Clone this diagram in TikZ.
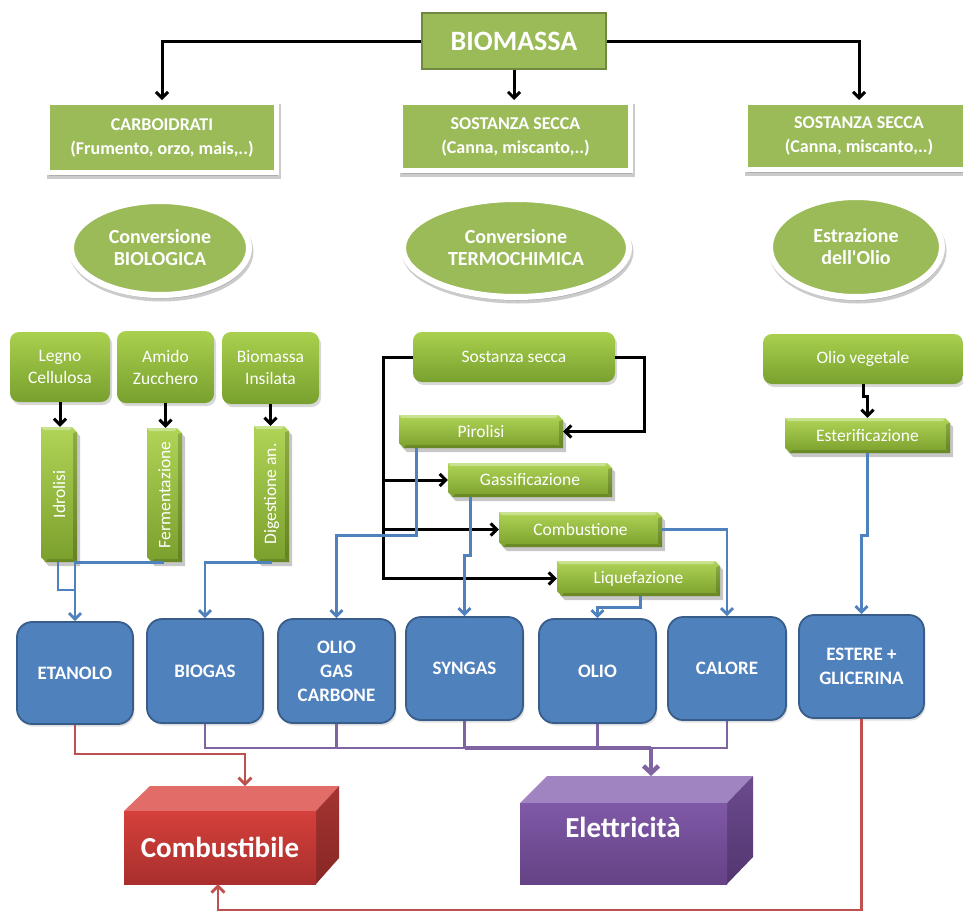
\documentclass[tikz,border=0pt]{standalone}
\usepackage{fontspec}
\setmainfont{Carlito}
\usetikzlibrary{arrows.meta,shapes.geometric,shadows,calc}

\definecolor{gMain}{HTML}{9BBB59}
\definecolor{gDark}{HTML}{71893F}
\definecolor{gTop}{HTML}{A9D04D}
\definecolor{gBot}{HTML}{78A02E}
\definecolor{barTop}{HTML}{AFD456}
\definecolor{barBot}{HTML}{7B9F2C}
\definecolor{bFill}{HTML}{4F81BD}
\definecolor{bEdge}{HTML}{385D8A}
\definecolor{pLine}{HTML}{8064A2}
\definecolor{rLine}{HTML}{C0504D}
\definecolor{redFront}{HTML}{D5403B}
\definecolor{redFrontB}{HTML}{A82F2D}
\definecolor{redTop}{HTML}{E26C68}
\definecolor{redSide}{HTML}{A53431}
\definecolor{redSideB}{HTML}{862725}
\definecolor{vioFront}{HTML}{7F59A7}
\definecolor{vioFrontB}{HTML}{654285}
\definecolor{vioTop}{HTML}{A084C2}
\definecolor{vioSide}{HTML}{6C4A8E}
\definecolor{vioSideB}{HTML}{533670}

\tikzset{
  framedshadow/.style={preaction={draw=black!45, fill=black!45, line width=#1,
    opacity=.45, transform canvas={xshift=1.5pt,yshift=-3.5pt}}},
  rootbox/.style={rectangle, fill=gMain, draw=gDark, line width=2.5pt,
    minimum width=184, minimum height=56, text=white, inner sep=0,
    font=\fontsize{28}{30}\selectfont\bfseries},
  catbox/.style={rectangle, fill=gMain, draw=white, line width=5pt, inner sep=0,
    framedshadow=5pt,
    text=white, align=center, font=\fontsize{18}{24}\selectfont\bfseries},
  convell/.style={ellipse, fill=gMain, draw=white, line width=6pt, inner sep=0,
    framedshadow=6pt,
    text=white, align=center, font=\fontsize{20}{22}\selectfont\bfseries},
  srcbox/.style={rectangle, rounded corners=9pt, top color=gTop, bottom color=gBot,
    inner sep=0, drop shadow={shadow xshift=2pt, shadow yshift=-3pt, opacity=.3},
    text=white, align=center, font=\fontsize{17.5}{22}\selectfont},
  bartext/.style={rectangle, inner sep=0, text=white, align=center,
    font=\fontsize{17.5}{20}\selectfont},
  prodbox/.style={rectangle, rounded corners=15pt, fill=bFill, draw=bEdge,
    line width=1.8pt, inner sep=0,
    drop shadow={shadow xshift=1.5pt, shadow yshift=-2.5pt, opacity=.25},
    text=white, align=center, font=\fontsize{19}{24}\selectfont\bfseries},
  bigtext/.style={rectangle, inner sep=0, text=white,
    font=\fontsize{29}{32}\selectfont\bfseries},
  bk/.style={black, line width=3pt, -{Straight Barb[length=6pt,width=12pt]}},
  bl/.style={bFill, line width=2.8pt, -{Straight Barb[length=6pt,width=12pt]}},
  blline/.style={bFill, line width=2.8pt},
  pl/.style={pLine, line width=2.8pt},
  rl/.style={rLine, line width=2.8pt, -{Straight Barb[length=6.5pt,width=13pt]}},
}

% bevelled process bar: name, x1, y1, x2, y2, text
\newcommand{\bevelbar}[6]{%
  \fill[black,opacity=.22] (#2+3,#3+4) -- (#4+3-5,#3+4) -- (#4+3,#3+9) -- (#4+3,#5+4)
     -- (#2+8,#5+4) -- (#2+3,#5-1) -- cycle;
  \shade[top color=barTop,bottom color=barBot] (#2,#3) -- (#4-5,#3) -- (#4,#3+5)
     -- (#4,#5) -- (#2+5,#5) -- (#2,#5-5) -- cycle;
  \fill[white,opacity=.35] (#2,#3) -- (#4-5,#3) -- (#4-7,#3+3) -- (#2+3,#3+3) -- cycle;
  \fill[black,opacity=.18] (#4,#3+5) -- (#4,#5) -- (#4-4,#5-4) -- (#4-4,#3+6) -- cycle;
  \fill[black,opacity=.15] (#4,#5) -- (#2+5,#5) -- (#2+7,#5-3) -- (#4-4,#5-3) -- cycle;
  \node[bartext, minimum width={#4-#2}, minimum height={#5-#3}] (#1)
     at ({(#2+#4)/2},{(#3+#5)/2}) {#6};
}

\begin{document}
\begin{tikzpicture}[x=1pt,y=-1pt]
\fill[white] (0,0) rectangle (963,913);
\useasboundingbox (0,0) rectangle (963,913);

% root and categories
\node[rootbox] (bio) at (514,41) {BIOMASSA};
\node[catbox, minimum width=229, minimum height=70] (carb) at (162,137.5)
  {CARBOIDRATI\\(Frumento, orzo, mais,..)};
\node[catbox, minimum width=230, minimum height=68] (ssa) at (515.5,136.5)
  {SOSTANZA SECCA\\(Canna, miscanto,..)};
\node[catbox, minimum width=227, minimum height=67] (ssb) at (859,136)
  {SOSTANZA SECCA\\(Canna, miscanto,..)};

\draw[bk] (bio.west) -| (carb.north);
\draw[bk] (bio.east) -| (ssb.north);
\draw[bk] (bio.south) -- (bio.south |- ssa.north);

% conversion routes
\node[convell, minimum width=178, minimum height=94] (ebio) at (160,248)
  {Conversione\\BIOLOGICA};
\node[convell, minimum width=226, minimum height=98] (eterm) at (516,248)
  {Conversione\\TERMOCHIMICA};
\node[convell, minimum width=172, minimum height=100] (eolio) at (856,247)
  {Estrazione\\dell\textquotesingle Olio};

% biological branch
\node[srcbox, minimum width=100, minimum height=70] (legno) at (60,367) {Legno\\Cellulosa};
\node[srcbox, minimum width=97, minimum height=72] (amido) at (165.5,367) {Amido\\Zucchero};
\node[srcbox, minimum width=97, minimum height=72] (insil) at (270.5,368) {Biomassa\\Insilata};

\bevelbar{idro}{41}{427}{77}{562}{\rotatebox{90}{Idrolisi}}
\bevelbar{ferm}{147}{428}{182}{562}{\rotatebox{90}{Fermentazione}}
\bevelbar{dige}{254}{426}{289}{562}{\rotatebox{90}{Digestione an.}}

\draw[bk] (legno.south) -- (legno.south |- idro.north);
\draw[bk] (amido.south) -- (amido.south |- ferm.north);
\draw[bk] (insil.south) -- (insil.south |- dige.north);

% thermochemical branch
\node[srcbox, minimum width=202, minimum height=50] (secca) at (514,357) {Sostanza secca};
\bevelbar{piro}{399}{415}{563}{448}{Pirolisi}
\bevelbar{gass}{448}{463}{612}{497}{Gassificazione}
\bevelbar{combu}{499}{512}{662}{547}{Combustione}
\bevelbar{liq}{557}{561}{720}{596}{Liquefazione}

\coordinate (spine) at (383,357);
\draw[bk] (secca.west) -- (spine) |- (liq.west);
\draw[bk] (spine |- gass.west) -- (gass.west);
\draw[bk] (spine |- combu.west) -- (combu.west);
\draw[bk] (secca.east) -- ++(29,0) |- (piro.east);

% oil extraction branch
\node[srcbox, minimum width=200, minimum height=50] (oliov) at (863,359) {Olio vegetale};
\bevelbar{ester}{785}{418}{950}{453}{Esterificazione}
\draw[bk] (oliov.south) -- ++(0,12) -| (ester.north);

% products
\node[prodbox, minimum width=116, minimum height=102] (etan) at (75,673) {ETANOLO};
\node[prodbox, minimum width=116, minimum height=104] (biogas) at (205,671) {BIOGAS};
\node[prodbox, minimum width=117, minimum height=104] (ogc) at (336.5,671) {OLIO\\GAS\\CARBONE};
\node[prodbox, minimum width=117, minimum height=103] (syngas) at (464.5,668.5) {SYNGAS};
\node[prodbox, minimum width=117, minimum height=104] (olio) at (597.5,671) {OLIO};
\node[prodbox, minimum width=118, minimum height=103] (calore) at (727,668.5) {CALORE};
\node[prodbox, minimum width=125, minimum height=103] (estere) at (861.5,666.5) {ESTERE +\\GLICERINA};

% process outputs
\coordinate (ejoin) at (0,590);
\draw[blline] ([xshift=-1pt]idro.south) |- (etan.north |- ejoin);
\draw[bl] ([xshift=-1pt]ferm.south) -| (etan.north);
\draw[bl] (dige.south) -| (biogas.north);
\draw[bl] ([xshift=18pt]piro.south west) -- ++(0,87) -| (ogc.north);
\draw[bl] ([xshift=23pt]gass.south west) -- ++(0,58) -| (syngas.north);
\draw[bl] (combu.east) -| (calore.north);
\draw[bl] ([xshift=84pt]liq.south west) -- ++(0,11) -| (olio.north);
\draw[bl] (ester.south) -- ++(0,82) -| (estere.north);

% final uses: fuel block
\fill[redTop] (124,811) -- (150,786) -- (339,786) -- (316,811) -- cycle;
\shade[top color=redSide,bottom color=redSideB] (316,811) -- (339,786) -- (339,858) -- (316,884) -- cycle;
\shade[top color=redFront,bottom color=redFrontB] (124,811) rectangle (316,884);
\node[bigtext, minimum width=192, minimum height=73] (fuel) at (220,847.5) {Combustibile};
\coordinate (fueltop) at (245,786);

% final uses: electricity block
\fill[vioTop] (520,803) -- (547,776) -- (753,776) -- (727,803) -- cycle;
\shade[top color=vioSide,bottom color=vioSideB] (727,803) -- (753,776) -- (753,857) -- (727,884) -- cycle;
\shade[top color=vioFront,bottom color=vioFrontB] (520,803) rectangle (727,884);
\node[bigtext, minimum width=207, minimum height=81] (elet) at (623.5,843.5) {};
\node[bigtext] (elettxt) at (623,827) {Elettricità};
\coordinate (eletop) at (651,776);

% electricity bus
\coordinate (pbus) at (651,748);
\draw[pl] (biogas.south) |- (pbus);
\draw[pl] (calore.south) |- (pbus);
\draw[pl] (ogc.south) -- (ogc.south |- pbus);
\draw[pl] (syngas.south) -- (syngas.south |- pbus);
\draw[pl] (olio.south) -- (olio.south |- pbus);
\draw[pl, line width=3.6pt] (syngas.south |- pbus) -- (pbus);
\draw[pLine, line width=4.5pt, -{Straight Barb[length=7pt,width=15pt]}] (pbus) -- (eletop);

% fuel connectors
\coordinate (rbend) at (245,754);
\draw[rl] (etan.south) |- (rbend) -- (fueltop);
\coordinate (rlow) at (218,910);
\draw[rl] (estere.south) |- (rlow) -- (rlow |- fuel.south);

\end{tikzpicture}
\end{document}
